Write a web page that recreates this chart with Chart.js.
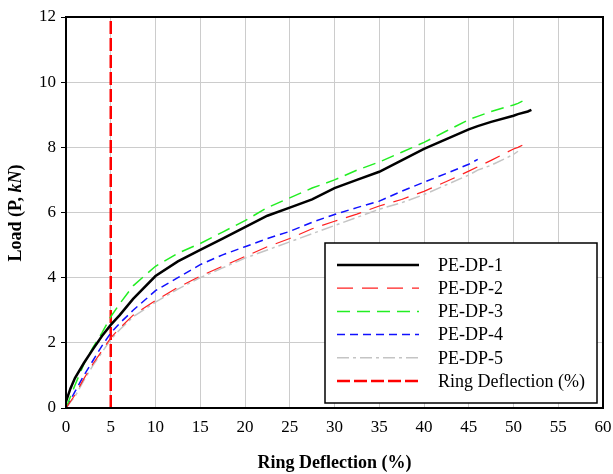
<!DOCTYPE html>
<html>
<head>
<meta charset="utf-8">
<script src="https://cdn.jsdelivr.net/npm/chart.js@4.4.0/dist/chart.umd.min.js"></script>
<style>
  body { margin: 0; background: #fff; }
  #wrap { width: 613px; height: 474px; }
</style>
</head>
<body>
<div id="wrap"><canvas id="loadChart" width="613" height="474"></canvas></div>
<script>
// ring deflection (%) where the curves were read
const deflection = [0, 0.5, 1, 2, 3, 4, 5, 6, 7.5, 10, 12.5, 15, 17.5, 20, 22.5, 25, 27.5, 30, 32.5, 35, 37.5, 40, 42.5, 45, 46, 47.5, 50, 50.5, 51.6, 52];
// load P (kN)
const pe1 = [0.2, 0.6, 0.92, 1.38, 1.8, 2.2, 2.55, 2.85, 3.35, 4.05, 4.5, 4.85, 5.2, 5.55, 5.9, 6.15, 6.4, 6.75, 7.0, 7.25, 7.6, 7.95, 8.25, 8.55, 8.65, 8.78, 8.97, 9.02, 9.1, 9.15];
const pe2 = [0, 0.2, 0.4, 0.9, 1.35, 1.75, 2.15, 2.45, 2.85, 3.3, 3.7, 4.05, 4.35, 4.65, 4.95, 5.2, 5.5, 5.73, 5.95, 6.2, 6.4, 6.65, 6.95, 7.27, 7.4, 7.6, 7.95, 8.0, 8.14, null];
const pe3 = [0, 0.35, 0.7, 1.35, 1.85, 2.3, 2.8, 3.2, 3.75, 4.35, 4.75, 5.05, 5.4, 5.75, 6.15, 6.45, 6.75, 7.0, 7.3, 7.55, 7.85, 8.15, 8.5, 8.85, 8.95, 9.1, 9.3, 9.35, 9.5, null];
const pe4 = [0, 0.25, 0.5, 1.0, 1.45, 1.9, 2.3, 2.6, 3.0, 3.6, 4.0, 4.4, 4.7, 4.95, 5.2, 5.42, 5.7, 5.94, 6.15, 6.35, 6.65, 6.93, 7.2, 7.48, 7.63, null, null, null, null, null];
const pe5 = [0, 0.18, 0.35, 0.85, 1.3, 1.7, 2.1, 2.4, 2.8, 3.25, 3.65, 4.0, 4.3, 4.6, 4.85, 5.1, 5.35, 5.6, 5.85, 6.1, 6.3, 6.55, 6.85, 7.15, 7.3, 7.45, 7.78, 7.88, null, null];
// vertical marker at 5 % deflection
const ringX = [5, 5];
const ringY = [0, 12];

const seriesNames = ["PE-DP-1", "PE-DP-2", "PE-DP-3", "PE-DP-4", "PE-DP-5"];
const seriesData = [pe1, pe2, pe3, pe4, pe5];
const seriesColors = ["#000000", "#ff2020", "#22ee22", "#1010ff", "#c4c4c4"];
const seriesWidths = [2.5, 1.2, 1.5, 1.5, 1.5];
const seriesDash = [[], [16, 9], [13, 7], [8, 5], [12, 4, 3, 4]];

const FONT = "'Liberation Serif', 'Times New Roman', serif";

function toPoints(xs, ys) {
    const pts = [];
    for (let i = 0; i < xs.length; i++) {
        if (ys[i] !== null) pts.push({ x: xs[i], y: ys[i] });
    }
    return pts;
}

const datasets = seriesNames.map(function (name, i) {
    return {
        label: name,
        data: toPoints(deflection, seriesData[i]),
        borderColor: seriesColors[i],
        borderWidth: seriesWidths[i],
        borderDash: seriesDash[i],
        pointRadius: 0,
        tension: 0,
        fill: false,
    };
});
datasets.push({
    label: "Ring Deflection (%)",
    data: toPoints(ringX, ringY),
    borderColor: "#ff0000",
    borderWidth: 2.5,
    borderDash: [13, 4],
    pointRadius: 0,
    fill: false,
});

// frame, axis titles and the boxed legend
const decorations = {
    id: "decorations",
    afterDraw(chart) {
        const ctx = chart.ctx;
        const a = chart.chartArea;
        ctx.save();
        ctx.strokeStyle = "#000";
        ctx.lineWidth = 2;
        ctx.setLineDash([]);
        ctx.strokeRect(a.left, a.top, a.right - a.left, a.bottom - a.top);

        // x title
        ctx.fillStyle = "#000";
        ctx.font = "bold 18px " + FONT;
        ctx.textAlign = "center";
        ctx.textBaseline = "middle";
        ctx.fillText("Ring Deflection (%)", (a.left + a.right) / 2, 463);

        // y title with italic kN
        ctx.translate(16, 213);
        ctx.rotate(-Math.PI / 2);
        const parts = [["Load (P, ", "bold 18px "], ["kN", "italic bold 18px "], [")", "bold 18px "]];
        let total = 0;
        parts.forEach(function (p) { ctx.font = p[1] + FONT; total += ctx.measureText(p[0]).width; });
        let px = -total / 2;
        ctx.textAlign = "left";
        parts.forEach(function (p) {
            ctx.font = p[1] + FONT;
            ctx.fillText(p[0], px, 0);
            px += ctx.measureText(p[0]).width;
        });
        ctx.restore();

        // legend
        ctx.save();
        const bx = 325, by = 243, bw = 272, bh = 160;
        ctx.fillStyle = "#fff";
        ctx.fillRect(bx, by, bw, bh);
        ctx.strokeStyle = "#000";
        ctx.lineWidth = 1.5;
        ctx.strokeRect(bx, by, bw, bh);
        ctx.font = "18px " + FONT;
        ctx.textBaseline = "middle";
        ctx.textAlign = "left";
        chart.data.datasets.forEach(function (ds, i) {
            const y = 265 + i * 23.2;
            ctx.beginPath();
            ctx.strokeStyle = ds.borderColor;
            ctx.lineWidth = ds.borderWidth;
            ctx.setLineDash(ds.borderDash || []);
            ctx.moveTo(337, y);
            ctx.lineTo(419, y);
            ctx.stroke();
            ctx.setLineDash([]);
            ctx.fillStyle = "#000";
            ctx.fillText(ds.label, 438, y + 1);
        });
        ctx.restore();
    }
};

new Chart(document.getElementById("loadChart").getContext("2d"), {
    type: "line",
    data: { datasets: datasets },
    options: {
        responsive: false,
        animation: false,
        layout: { padding: { top: 17, right: 10, left: 0, bottom: 0 } },
        plugins: {
            legend: { display: false },
            tooltip: { enabled: false },
        },
        scales: {
            x: {
                type: "linear",
                min: 0,
                max: 60,
                ticks: { stepSize: 5, color: "#000", font: { family: FONT, size: 17 }, padding: 9, maxRotation: 0 },
                grid: { color: "#cccccc", lineWidth: 1, drawTicks: false },
                border: { color: "#000", width: 2 },
                afterFit(scale) {
                    scale.height = 66;
                    scale.paddingLeft = 0;
                    scale.paddingRight = 0;
                },
            },
            y: {
                min: 0,
                max: 12,
                ticks: { stepSize: 2, color: "#000", font: { family: FONT, size: 17 }, padding: 5 },
                grid: { color: "#cccccc", lineWidth: 1, tickLength: 5, tickColor: "#000" },
                border: { color: "#000", width: 2 },
                afterFit(scale) {
                    scale.width = 66;
                    scale.paddingTop = 0;
                    scale.paddingBottom = 0;
                },
            },
        },
    },
    plugins: [decorations],
});
</script>
</body>
</html>
